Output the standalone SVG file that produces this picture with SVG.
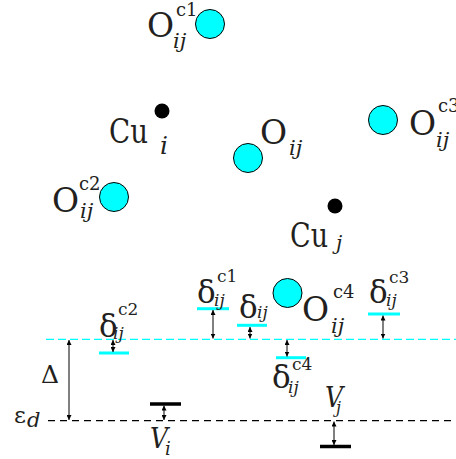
<svg xmlns="http://www.w3.org/2000/svg" width="456" height="459" viewBox="0 0 456 459">
<defs>
<style>
text{font-family:"DejaVu Serif",serif;fill:#231f20}
.big{font-size:33px}
.sup{font-size:18px}
.sub{font-size:21px;font-style:italic}
.gr{font-size:31px}
.dsup{font-size:17px}
.dsub{font-size:17px;font-style:italic}
.ox{fill:#00ffff;stroke:#000;stroke-width:1}
.cu{fill:#000}
.cbar{stroke:#00ffff;stroke-width:3}
.kbar{stroke:#000;stroke-width:3.5}
.arr{stroke:#000;stroke-width:1;marker-start:url(#ah);marker-end:url(#ah)}
</style>
<marker id="ah" viewBox="0 0 6 6" refX="6" refY="3" markerWidth="5" markerHeight="5" markerUnits="userSpaceOnUse" orient="auto-start-reverse">
<path d="M0,0 L6,3 L0,6 z" fill="#000"/>
</marker>
</defs>
<rect width="456" height="459" fill="#fff"/>

<g id="Oc1">
<circle class="ox" cx="210" cy="24" r="14.5"/>
<text class="big" x="147" y="37">O</text>
<text class="sup" x="176" y="16">c1</text>
<text class="sub" x="173" y="48">ij</text>
</g>
<g id="Cui">
<circle class="cu" cx="162" cy="111" r="7.5"/>
<text class="big" x="109" y="143" textLength="39" lengthAdjust="spacingAndGlyphs">Cu</text>
<text class="sub" style="font-size:25px" x="160" y="154">i</text>
</g>
<g id="Oc2">
<circle class="ox" cx="114" cy="197" r="14.5"/>
<text class="big" x="52" y="212">O</text>
<text class="sup" x="79" y="190">c2</text>
<text class="sub" x="80" y="218">ij</text>
</g>
<g id="Oij">
<circle class="ox" cx="248" cy="158" r="14.5"/>
<text class="big" x="260" y="144">O</text>
<text class="sub" x="289" y="155">ij</text>
</g>
<g id="Oc3">
<circle class="ox" cx="383" cy="120" r="14.5"/>
<text class="big" x="409" y="135">O</text>
<text class="sup" x="438" y="112">c3</text>
<text class="sub" x="436" y="147">ij</text>
</g>
<g id="Cuj">
<circle class="cu" cx="335" cy="206" r="7.5"/>
<text class="big" x="290" y="247" textLength="38" lengthAdjust="spacingAndGlyphs">Cu</text>
<text class="sub" style="font-size:20px" x="336" y="250">j</text>
</g>
<g id="Oc4">
<circle class="ox" cx="287.5" cy="293" r="14.5"/>
<text class="big" x="302" y="321">O</text>
<text class="sup" x="333" y="298">c4</text>
<text class="sub" x="331" y="333">ij</text>
</g>

<g id="levels">
<line x1="46" y1="339.3" x2="456" y2="339.3" stroke="#00ffff" stroke-width="1.3" stroke-dasharray="8 4"/>
<line x1="48" y1="420.7" x2="456" y2="420.7" stroke="#000" stroke-width="1.3" stroke-dasharray="7 5"/>
<line class="cbar" x1="99" y1="353" x2="129" y2="353"/>
<line class="cbar" x1="197" y1="308.7" x2="229" y2="308.7"/>
<line class="cbar" x1="237" y1="325.3" x2="267" y2="325.3"/>
<line class="cbar" x1="276" y1="357.7" x2="306" y2="357.7"/>
<line class="cbar" x1="368" y1="314" x2="400" y2="314"/>
<line class="kbar" x1="150" y1="404" x2="181" y2="404"/>
<line class="kbar" x1="320" y1="446.5" x2="351" y2="446.5"/>
</g>

<g id="connectors">
<line class="arr" x1="69" y1="340" x2="69" y2="420"/>
<line class="arr" x1="113" y1="340" x2="113" y2="352"/>
<line class="arr" x1="213" y1="310" x2="213" y2="338.5"/>
<line class="arr" x1="250" y1="327" x2="250" y2="338.5"/>
<line class="arr" x1="287" y1="340" x2="287" y2="356.5"/>
<line class="arr" x1="383" y1="315.5" x2="383" y2="338.5"/>
<line class="arr" x1="164" y1="405.5" x2="164" y2="420"/>
<line class="arr" x1="334" y1="421.5" x2="334" y2="445"/>
</g>

<g id="labels">
<text style="font-size:25px" x="41" y="383">Δ</text>
<text style="font-size:23px" x="14" y="423">ε</text>
<text style="font-size:21px;font-style:italic" x="27" y="427">d</text>
<text style="font-size:28px;font-style:italic" x="150" y="448" textLength="18" lengthAdjust="spacingAndGlyphs">V</text>
<text style="font-size:18px;font-style:italic" x="165" y="455">i</text>
<text style="font-size:28px;font-style:italic" x="325" y="407" textLength="18" lengthAdjust="spacingAndGlyphs">V</text>
<text style="font-size:16px;font-style:italic" x="336" y="413">j</text>

<text class="gr" x="99" y="337">δ</text>
<text class="dsup" x="118" y="315">c2</text>
<text class="dsub" x="113" y="339">ij</text>

<text class="gr" x="197" y="303">δ</text>
<text class="dsup" x="217" y="282">c1</text>
<text class="dsub" x="214" y="306">ij</text>

<text class="gr" x="239" y="318">δ</text>
<text class="dsub" x="257" y="318">ij</text>

<text class="gr" x="272" y="388">δ</text>
<text class="dsup" x="292" y="370">c4</text>
<text class="dsub" x="288" y="393">ij</text>

<text class="gr" x="369" y="303">δ</text>
<text class="dsup" x="389" y="283">c3</text>
<text class="dsub" x="386" y="306">ij</text>
</g>
</svg>
